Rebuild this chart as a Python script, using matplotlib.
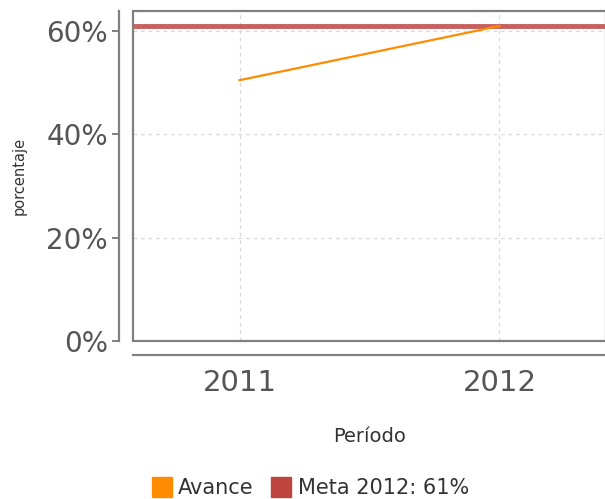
import matplotlib
matplotlib.use("Agg")
import matplotlib.pyplot as plt
from matplotlib.patches import Rectangle
from matplotlib.ticker import FuncFormatter

# data
years = [2011, 2012]
avance = [50.5, 61.0]
meta = 61.0
yticks = [0, 20, 40, 60]

W, H = 605, 499
fig = plt.figure(figsize=(W / 100, H / 100), dpi=100)

left, right, top, bottom = 133, 606, 11, 341
ax = fig.add_axes([left / W, 1 - bottom / H, (right - left) / W, (bottom - top) / H])

ax.set_xlim(2010.59, 2012.41)
ax.set_ylim(0, 63.9)

ax.plot(years, avance, color="#ff8c00", lw=1.6, zorder=3)
ax.axhline(meta, color="#c0504d", lw=3.5, alpha=0.9, zorder=2)

ax.set_xticks(years)
ax.set_yticks(yticks)
ax.yaxis.set_major_formatter(FuncFormatter(lambda v, p: "%d%%" % v))
ax.grid(True, color="#d8d8d8", ls=(0, (3, 3)), lw=0.9)

for s in ["top", "right"]:
    ax.spines[s].set_visible(False)
ax.spines["left"].set_position(("outward", 10))
ax.spines["bottom"].set_position(("outward", 10))
for s in ["left", "bottom"]:
    ax.spines[s].set_color("#808080")
    ax.spines[s].set_linewidth(1.6)

ax.add_patch(Rectangle((0, 0), 1, 1, transform=ax.transAxes, fill=False,
                       ec="#808080", lw=1.6, clip_on=False, zorder=4))

ax.tick_params(axis="y", length=5, width=1.4, color="#808080", labelsize=20,
               labelcolor="#555555", pad=3)
ax.tick_params(axis="x", length=0, labelsize=21, labelcolor="#555555", pad=10)

ax.set_xlabel("Período", fontsize=14, color="#333333", labelpad=22)
ax.set_ylabel("porcentaje", fontsize=10.5, color="#333333", labelpad=2)
ax.yaxis.set_label_coords(-106 / (right - left), 0.5)

h1 = plt.Line2D([], [], ls="none", marker="s", ms=14, color="#ff8c00")
h2 = plt.Line2D([], [], ls="none", marker="s", ms=14, color="#c0443e")
leg = fig.legend([h1, h2], ["Avance", "Meta 2012: 61%"], loc="center",
                 bbox_to_anchor=(310 / W, 1 - 488 / H), ncol=2, frameon=False,
                 fontsize=15, handletextpad=0.3, columnspacing=0.8,
                 handlelength=1.0)
for t in leg.get_texts():
    t.set_color("#333333")

fig.savefig("out.png", dpi=100)
